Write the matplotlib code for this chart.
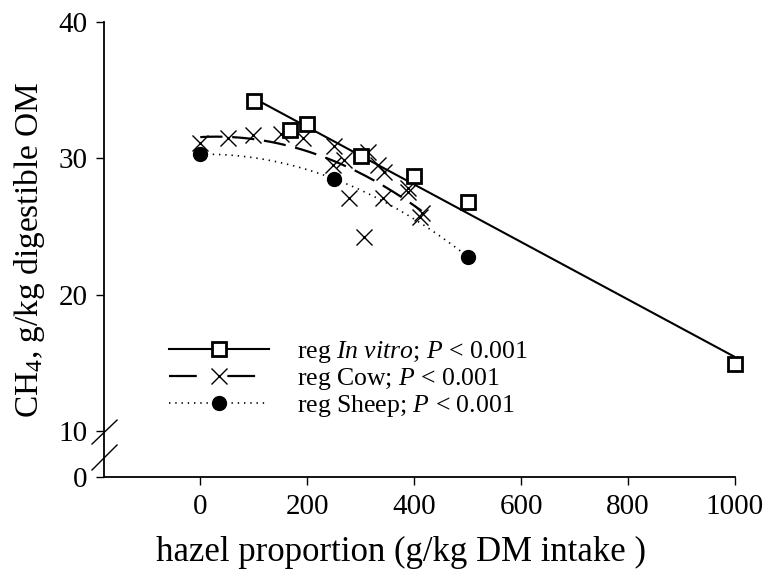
import numpy as np
import matplotlib
matplotlib.use("Agg")
import matplotlib.pyplot as plt

plt.rcParams['font.family'] = ['Liberation Serif', 'DejaVu Serif']
plt.rcParams['mathtext.fontset'] = 'custom'
plt.rcParams['mathtext.rm'] = 'Liberation Serif'
plt.rcParams['mathtext.it'] = 'Liberation Serif:italic'
plt.rcParams['lines.scale_dashes'] = False

# data
invitro_x = [100, 167, 200, 300, 400, 500, 1000]
invitro_y = [34.2, 32.1, 32.5, 30.2, 28.7, 26.8, 14.9]

cow_x = [0, 52, 98, 151, 193, 249, 250, 268, 279, 306, 313, 332, 341, 344, 388, 389, 411, 414]
cow_y = [31.1, 31.5, 31.7, 31.8, 31.5, 29.5, 30.9, 29.9, 27.1, 24.2, 30.5, 29.5, 27.1, 29.0,
         27.8, 27.5, 25.7, 26.0]

sheep_x = [0, 250, 500]
sheep_y = [30.3, 28.5, 22.8]

xticks = [0, 200, 400, 600, 800, 1000]
y_bottom = 6.63  # broken axis: this spot is labelled 0
yticks = [y_bottom, 10, 20, 30, 40]
ytick_labels = ['0', '10', '20', '30', '40']

fig = plt.figure(figsize=(7.68, 5.86), dpi=100)
ax = fig.add_axes([104 / 768, 1 - 477 / 586, 631 / 768, 455 / 586])

# regression curves
p_iv = np.polyfit(invitro_x, invitro_y, 1)
xs = np.linspace(min(invitro_x), max(invitro_x), 200)
ax.plot(xs, np.polyval(p_iv, xs), color='black', lw=1.5)

p_cow = np.polyfit(cow_x, cow_y, 2)
xs = np.linspace(min(cow_x), max(cow_x), 200)
ax.plot(xs, np.polyval(p_cow, xs), color='black', lw=1.6, dashes=(16, 7))

p_sh = np.polyfit(sheep_x, sheep_y, 2)
xs = np.linspace(min(sheep_x), max(sheep_x), 200)
ax.plot(xs, np.polyval(p_sh, xs), color='black', lw=1.2, dashes=(1, 3.5))

# points
ax.plot(cow_x, cow_y, 'x', color='black', ms=12, mew=1.0, clip_on=False)
ax.plot(invitro_x, invitro_y, 's', mfc='white', mec='black', ms=10, mew=2, clip_on=False)
ax.plot(sheep_x, sheep_y, 'o', color='black', ms=10, clip_on=False)

# legend proxies
h1, = ax.plot([], [], color='black', lw=1.5, marker='s', mfc='white', mec='black', ms=10, mew=2)
h2, = ax.plot([], [], color='black', lw=1.6, dashes=(20, 22), marker='x', ms=12, mew=1.0)
h3, = ax.plot([], [], color='black', lw=1.2, dashes=(1, 3.5), marker='o', ms=10)
fig.legend([h1, h2, h3],
           [r'reg $\mathit{In\ vitro}$; $\mathit{P}$ < 0.001',
            r'reg Cow; $\mathit{P}$ < 0.001',
            r'reg Sheep; $\mathit{P}$ < 0.001'],
           loc='upper left', bbox_to_anchor=(156 / 768, 1 - 326 / 586),
           frameon=False, fontsize=18.5, handlelength=3.9, handletextpad=1.1,
           labelspacing=0.05, borderpad=0, numpoints=1)

ax.set_xlim(-180, 1000)
ax.set_ylim(y_bottom, 40)
ax.set_xticks(xticks)
ax.set_yticks(yticks)
ax.set_yticklabels(ytick_labels)
ax.tick_params(direction='out', length=6, width=1, labelsize=21, pad=6)
for s in ['top', 'right']:
    ax.spines[s].set_visible(False)
for s in ['left', 'bottom']:
    ax.spines[s].set_linewidth(1.3)

# axis break marks
kw = dict(transform=ax.transAxes, color='black', lw=1, clip_on=False)
ax.plot([-0.019, 0.0206], [0.0725, 0.125], **kw)
ax.plot([-0.019, 0.0206], [0.0154, 0.0703], **kw)

ax.set_ylabel(r'CH$_4$, g/kg digestible OM', fontsize=24)
ax.yaxis.set_label_coords(-0.09, 0.5)
ax.set_xlabel('hazel proportion (g/kg DM intake )', fontsize=25)
ax.xaxis.set_label_coords(0.47, -0.13)

fig.savefig('out.png', dpi=100)
